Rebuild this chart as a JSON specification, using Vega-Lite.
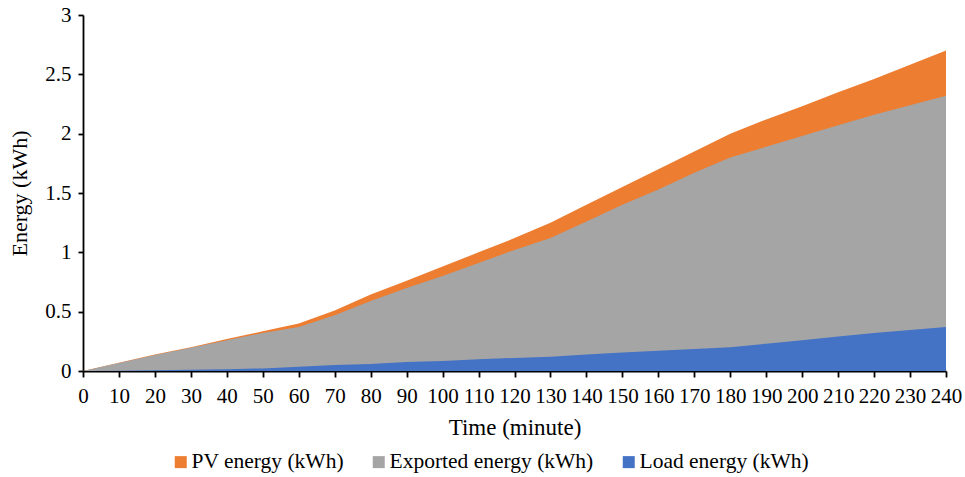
{
  "$schema": "https://vega.github.io/schema/vega-lite/v6.json",
  "width": 965,
  "height": 477,
  "autosize": {"type": "fit", "contains": "padding"},
  "padding": {"left": 8, "top": 4, "right": 3, "bottom": 38},
  "background": "white",
  "config": {
    "view": {"stroke": null},
    "font": "Liberation Serif",
    "axis": {"labelFont": "Liberation Serif", "titleFont": "Liberation Serif", "labelColor": "black", "titleColor": "black", "titleFontWeight": "normal", "domainColor": "black", "tickColor": "black", "domainWidth": 1.8, "tickWidth": 1.8, "grid": false},
    "legend": {"labelFont": "Liberation Serif", "labelColor": "black"}
  },
  "data": {
    "values": [
      {"minute": 0, "PV": 0, "Exported": 0, "Load": 0},
      {"minute": 10, "PV": 0.07, "Exported": 0.068, "Load": 0.003},
      {"minute": 20, "PV": 0.14, "Exported": 0.135, "Load": 0.006},
      {"minute": 30, "PV": 0.2, "Exported": 0.195, "Load": 0.01},
      {"minute": 40, "PV": 0.27, "Exported": 0.26, "Load": 0.015},
      {"minute": 50, "PV": 0.335, "Exported": 0.32, "Load": 0.022},
      {"minute": 60, "PV": 0.4, "Exported": 0.37, "Load": 0.035},
      {"minute": 70, "PV": 0.51, "Exported": 0.47, "Load": 0.05},
      {"minute": 80, "PV": 0.645, "Exported": 0.59, "Load": 0.06},
      {"minute": 90, "PV": 0.76, "Exported": 0.7, "Load": 0.075},
      {"minute": 100, "PV": 0.88, "Exported": 0.8, "Load": 0.085},
      {"minute": 110, "PV": 1.0, "Exported": 0.91, "Load": 0.1},
      {"minute": 120, "PV": 1.12, "Exported": 1.02, "Load": 0.11},
      {"minute": 130, "PV": 1.25, "Exported": 1.12, "Load": 0.12},
      {"minute": 140, "PV": 1.4, "Exported": 1.26, "Load": 0.14},
      {"minute": 150, "PV": 1.55, "Exported": 1.4, "Load": 0.155},
      {"minute": 160, "PV": 1.7, "Exported": 1.53, "Load": 0.17},
      {"minute": 170, "PV": 1.85, "Exported": 1.67, "Load": 0.185},
      {"minute": 180, "PV": 2.0, "Exported": 1.8, "Load": 0.2},
      {"minute": 190, "PV": 2.12, "Exported": 1.89, "Load": 0.23},
      {"minute": 200, "PV": 2.23, "Exported": 1.98, "Load": 0.26},
      {"minute": 210, "PV": 2.35, "Exported": 2.07, "Load": 0.29},
      {"minute": 220, "PV": 2.46, "Exported": 2.16, "Load": 0.32},
      {"minute": 230, "PV": 2.58, "Exported": 2.24, "Load": 0.345},
      {"minute": 240, "PV": 2.7, "Exported": 2.32, "Load": 0.37}
    ]
  },
  "transform": [
    {"fold": ["PV", "Exported", "Load"], "as": ["key", "value"]},
    {"lookup": "key", "from": {"data": {"values": [
      {"key": "PV", "series": "PV energy (kWh)"},
      {"key": "Exported", "series": "Exported energy (kWh)"},
      {"key": "Load", "series": "Load energy (kWh)"}
    ]}, "key": "key", "fields": ["series"]}}
  ],
  "encoding": {
    "x": {
      "field": "minute", "type": "quantitative",
      "scale": {"domain": [0, 240], "nice": false, "zero": true},
      "axis": {"values": [0,10,20,30,40,50,60,70,80,90,100,110,120,130,140,150,160,170,180,190,200,210,220,230,240], "title": "Time (minute)", "titleFontSize": 23, "labelFontSize": 21, "tickSize": 6, "labelPadding": 8, "titlePadding": 10, "labelOverlap": false, "labelFlush": false}
    },
    "y": {
      "field": "value", "type": "quantitative",
      "scale": {"domain": [0, 3], "nice": false},
      "axis": {"values": [0, 0.5, 1, 1.5, 2, 2.5, 3], "format": "~g", "title": "Energy (kWh)", "titleFontSize": 22, "labelFontSize": 21, "tickSize": 5, "labelPadding": 7, "titlePadding": 13}
    },
    "color": {
      "field": "series", "type": "nominal",
      "scale": {"domain": ["PV energy (kWh)", "Exported energy (kWh)", "Load energy (kWh)"], "range": ["#ED7D31", "#A5A5A5", "#4472C4"]},
      "legend": {"title": null, "orient": "none", "legendX": 87, "legendY": 436, "direction": "horizontal", "symbolType": "square", "symbolSize": 144, "symbolStrokeWidth": 0, "labelFontSize": 21.5, "labelLimit": 400, "columnPadding": 24, "symbolOffset": 0, "labelOffset": 0}
    }
  },
  "layer": [
    {"transform": [{"filter": "datum.key === 'PV'"}], "mark": {"type": "area", "opacity": 1}},
    {"transform": [{"filter": "datum.key === 'Exported'"}], "mark": {"type": "area", "opacity": 1}},
    {"transform": [{"filter": "datum.key === 'Load'"}], "mark": {"type": "area", "opacity": 1}}
  ]
}
